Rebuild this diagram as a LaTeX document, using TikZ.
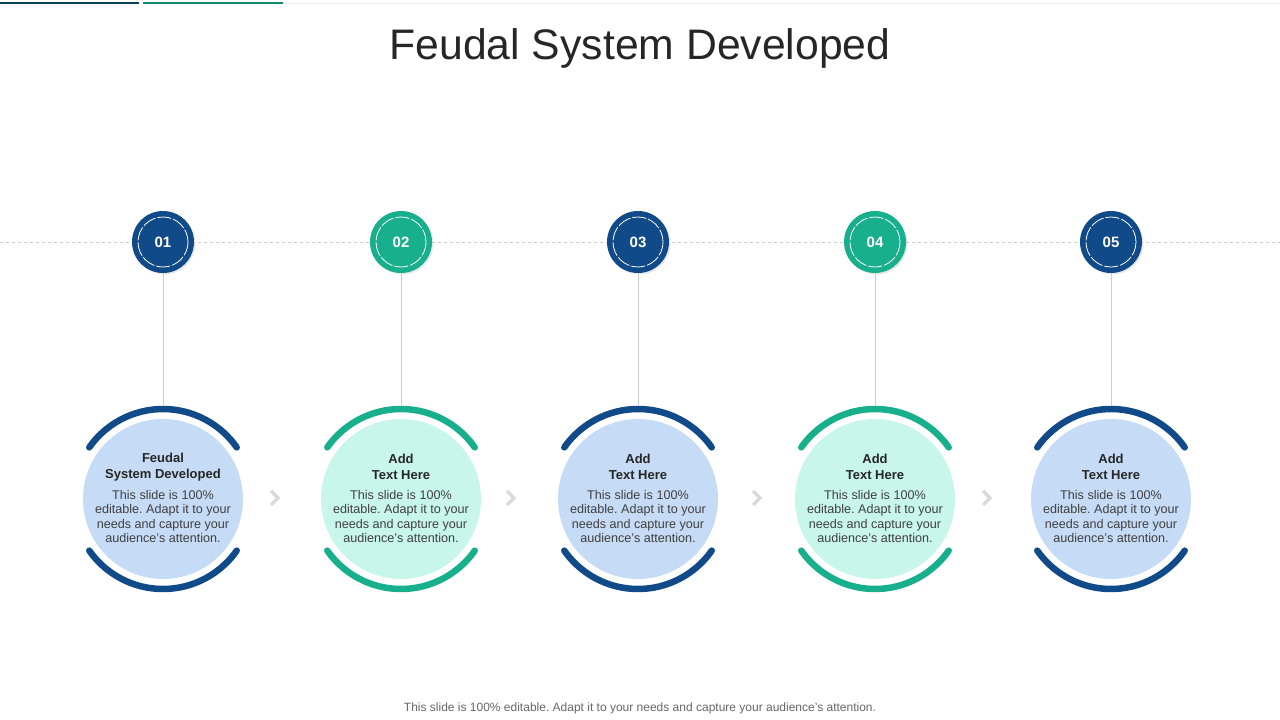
\documentclass[tikz,border=0pt]{standalone}
\usepackage{fontspec}
\setmainfont{Liberation Sans}
\usetikzlibrary{shadows}
\frenchspacing

\definecolor{stepblue}{HTML}{114A89}
\definecolor{stepteal}{HTML}{18B08C}
\definecolor{fillblue}{HTML}{C6DBF5}
\definecolor{fillmint}{HTML}{C9F6EA}
\definecolor{bodygray}{HTML}{404040}
\definecolor{headgray}{HTML}{262626}

\tikzset{
    numcircle/.style={circle, minimum size=62pt, inner sep=0pt, text=white,
        font=\fontsize{15}{18}\selectfont\bfseries,
        drop shadow={opacity=0.18, shadow xshift=1.5pt, shadow yshift=-1.5pt}},
    bigcircle/.style={circle, minimum size=160pt, inner sep=0pt, outer sep=13pt},
    headtext/.style={align=center, text=headgray, font=\fontsize{13}{16}\selectfont\bfseries},
    bodytext/.style={align=center, text=bodygray, font=\fontsize{12.6}{14.3}\selectfont},
    ring/.style={line width=6.5pt, line cap=round},
    link/.style={gray!40, line width=0.8pt},
    chevron/.style={gray!30, line width=3.2pt},
}

\begin{document}
\begin{tikzpicture}[x=1pt, y=-1pt]
    \useasboundingbox (0,0) rectangle (1280,720);

    % 顶部色条
    \draw[line width=1pt, gray!12] (283,3) -- (1280,3);
    \draw[line width=2.5pt, stepblue!60!teal!70!black] (0,3) -- (139,3);
    \draw[line width=2.5pt, stepteal!80!black] (143,3) -- (283,3);

    % 标题
    \node[headgray, font=\fontsize{42.7}{50}\selectfont] (title) at (640,48) {Feudal System Developed};

    % 时间线
    \draw[dashed, gray!40, line width=0.7pt] (0,242) -- (1280,242);

    % 五个步骤
    \foreach \i/\x/\col/\bg/\head in {
        1/163/stepblue/fillblue/{Feudal\\ System\ Developed},
        2/401/stepteal/fillmint/{Add\\ Text Here},
        3/638/stepblue/fillblue/{Add\\ Text Here},
        4/875/stepteal/fillmint/{Add\\ Text Here},
        5/1111/stepblue/fillblue/{Add\\ Text Here}} {
        \node[numcircle, fill=\col] (n\i) at (\x,242) {0\i};
        \draw[white, line width=0.8pt, dash pattern=on 14pt off 2pt] (n\i) circle (25);

        \node[bigcircle, fill=\bg] (c\i) at (\x,499) {};
        \draw[ring, \col] (c\i.center) ++(215:90) arc[start angle=215, end angle=325, radius=90];
        \draw[ring, \col] (c\i.center) ++(35:90) arc[start angle=35, end angle=145, radius=90];

        \draw[link] (n\i) -- (c\i);

        \node[headtext] (h\i) at (\x,467) {\head};
        \node[bodytext, anchor=north] (t\i) at (\x,487) {This slide is 100\%\\ editable. Adapt it to your\\ needs and capture your\\ audience's attention.};
    }

    % 箭头
    \foreach \x in {275, 511, 757, 987}
        \draw[chevron] (\x-4,491) -- (\x+3,498) -- (\x-4,505);

    % 页脚
    \node[gray!80!black, font=\fontsize{12}{14}\selectfont] (footer) at (640,708)
        {This slide is 100\% editable. Adapt it to your needs and capture your audience's attention.};
\end{tikzpicture}
\end{document}
